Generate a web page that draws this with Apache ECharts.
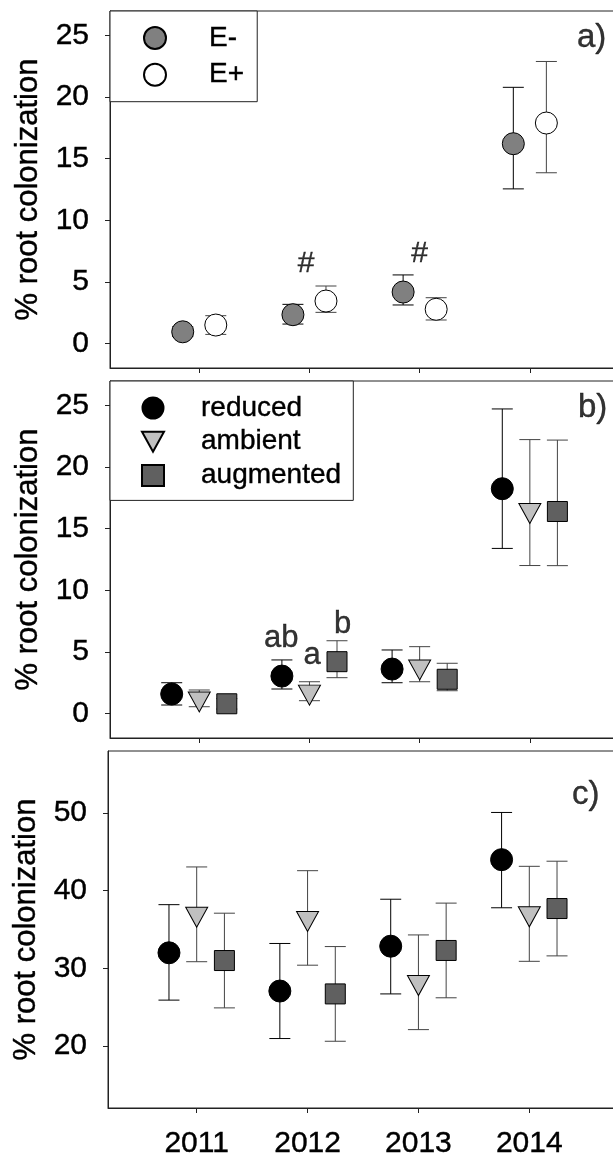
<!DOCTYPE html>
<html><head><meta charset="utf-8">
<script src="https://cdn.jsdelivr.net/npm/echarts@6/dist/echarts.min.js"></script>
<style>html,body{margin:0;padding:0;background:#fff}#c{width:613px;height:1160px}</style>
</head><body><div id="c"></div>
<script>
// ---------- data ----------
const years = [2011, 2012, 2013, 2014];
const yTicksAB = [0, 5, 10, 15, 20, 25];
const yTicksC = [20, 30, 40, 50];

// panel a: endophyte
const eMinusMean = [0.94, 2.33, 4.17, 16.22];
const eMinusLo   = [0.55, 1.57, 3.12, 12.55];
const eMinusHi   = [1.35, 3.17, 5.56, 20.8];
const ePlusMean  = [1.49, 3.44, 2.77, 17.9];
const ePlusLo    = [0.73, 2.52, 1.9, 13.86];
const ePlusHi    = [2.25, 4.66, 3.71, 22.9];

// panel b: precipitation
const bRedMean = [1.57, 3.03, 3.6, 18.25];
const bRedLo   = [0.68, 1.98, 2.49, 13.4];
const bRedHi   = [2.49, 4.34, 5.15, 24.73];
const bAmbMean = [1.2, 1.75, 3.8, 16.5];
const bAmbLo   = [0.54, 1.03, 2.57, 12.01];
const bAmbHi   = [1.9, 2.57, 5.42, 22.24];
const bAugMean = [0.78, 4.2, 2.77, 16.4];
const bAugLo   = [0.35, 2.9, 1.84, 12.0];
const bAugHi   = [1.2, 5.9, 4.07, 22.2];

// panel c
const cRedMean = [32.0, 27.07, 32.85, 44.0];
const cRedLo   = [25.9, 20.95, 26.7, 37.8];
const cRedHi   = [38.2, 33.2, 38.9, 50.08];
const cAmbMean = [37.0, 36.45, 28.2, 37.06];
const cAmbLo   = [30.85, 30.4, 22.1, 30.9];
const cAmbHi   = [43.06, 42.58, 34.3, 43.14];
const cAugMean = [31.0, 26.7, 32.3, 37.7];
const cAugLo   = [24.9, 20.6, 26.2, 31.6];
const cAugHi   = [37.1, 32.8, 38.4, 43.8];

// annotations [x, y, text]
const annotA = [[2011.97, 6.5, '#'], [2013.0, 7.3, '#'], [2014.56, 24.8, 'a)']];
const annotB = [[2011.745, 6.1, 'ab'], [2012.025, 4.74, 'a'], [2012.3, 7.24, 'b'], [2014.57, 24.8, 'b)']];
const annotC = [[2014.51, 52.3, 'c)']];

// ---------- build ----------
const FONT = 'Liberation Sans, Arial, Helvetica, sans-serif';
const AX = '#222';
const BOLDEN = { textBorderColor: '#000', textBorderWidth: 0.4 };

function pts(mean, off) { return years.map((y, i) => [y + off, mean[i]]); }
function errs(lo, hi, off) { return years.map((y, i) => [y + off, lo[i], hi[i]]); }

function errRender(color) {
  return function (params, api) {
    const x = api.value(0), lo = api.value(1), hi = api.value(2);
    const a = api.coord([x, lo]), b = api.coord([x, hi]);
    const hw = 10.5;
    const st = { stroke: color, lineWidth: 1 };
    return { type: 'group', children: [
      { type: 'line', shape: { x1: a[0], y1: a[1], x2: b[0], y2: b[1] }, style: st },
      { type: 'line', shape: { x1: a[0] - hw, y1: a[1], x2: a[0] + hw, y2: a[1] }, style: st },
      { type: 'line', shape: { x1: b[0] - hw, y1: b[1], x2: b[0] + hw, y2: b[1] }, style: st }
    ]};
  };
}

const series = [];
function group(idx, name, mean, lo, hi, off, sym, fill, barColor) {
  series.push({
    type: 'custom', name: '_err' + name + idx, xAxisIndex: idx, yAxisIndex: idx,
    renderItem: errRender(barColor), data: errs(lo, hi, off),
    encode: { x: 0, y: [1, 2] }, z: 2, silent: true
  });
  const s = {
    type: 'scatter', name: name, xAxisIndex: idx, yAxisIndex: idx,
    data: pts(mean, off), symbol: sym.symbol, symbolSize: sym.size,
    itemStyle: { color: fill, borderColor: '#000', borderWidth: 1, opacity: 1 },
    z: 3, silent: true
  };
  if (sym.rotate) s.symbolRotate = sym.rotate;
  if (sym.offset) s.symbolOffset = sym.offset;
  series.push(s);
}
function annot(idx, arr, size) {
  series.push({
    type: 'scatter', name: '_annot' + idx, xAxisIndex: idx, yAxisIndex: idx,
    symbolSize: 1, itemStyle: { color: 'rgba(0,0,0,0)' }, silent: true, z: 5,
    data: arr.map(d => ({ value: [d[0], d[1]], label: Object.assign({
      formatter: d[2], fontSize: d[2].indexOf(')') >= 0 ? 33 : size, color: '#000' }, BOLDEN) })),
    label: Object.assign({ show: true, position: 'inside', color: '#000', fontFamily: FONT }, BOLDEN)
  });
}

const CIRC = { symbol: 'circle', size: 22 };
const TRI = { symbol: 'triangle', size: [22, 20], rotate: 180, offset: [0, 3.3] };
const SQ = { symbol: 'rect', size: 20 };

group(0, 'E-', eMinusMean, eMinusLo, eMinusHi, -0.15, CIRC, '#808080', '#000');
group(0, 'E+', ePlusMean, ePlusLo, ePlusHi, 0.15, CIRC, '#ffffff', '#444');
annot(0, annotA, 30);

group(1, 'reduced', bRedMean, bRedLo, bRedHi, -0.25, CIRC, '#000000', '#000');
group(1, 'ambient', bAmbMean, bAmbLo, bAmbHi, 0, TRI, '#c0c0c0', '#444');
group(1, 'augmented', bAugMean, bAugLo, bAugHi, 0.25, SQ, '#606060', '#444');
annot(1, annotB, 31);

group(2, 'reduced', cRedMean, cRedLo, cRedHi, -0.25, CIRC, '#000000', '#000');
group(2, 'ambient', cAmbMean, cAmbLo, cAmbHi, 0, TRI, '#c0c0c0', '#444');
group(2, 'augmented', cAugMean, cAugLo, cAugHi, 0.25, SQ, '#606060', '#444');
annot(2, annotC, 31);

function gridCfg(left, top) {
  return { left: left, right: -5, top: top, height: 357, show: true, borderColor: AX, borderWidth: 1,
           containLabel: false, outerBoundsMode: 'none' };
}
function xAx(idx, min, showLabel) {
  return {
    type: 'value', gridIndex: idx, min: min, max: 2014.8, position: 'bottom',
    axisLine: { show: true, onZero: false, lineStyle: { color: AX } },
    axisTick: { show: true, inside: false, length: 5, lineStyle: { color: AX }, customValues: years },
    axisLabel: Object.assign({ show: showLabel, customValues: years, margin: 21, fontSize: 30, color: '#000', fontFamily: FONT,
                 formatter: v => String(Math.round(v)) }, BOLDEN),
    splitLine: { show: false }
  };
}
function yAx(idx, min, max, ticks) {
  return {
    type: 'value', gridIndex: idx, min: min, max: max, position: 'left',
    name: '% root colonization', nameLocation: 'middle', nameGap: 65,
    nameTextStyle: Object.assign({ fontSize: 31, color: '#000', fontFamily: FONT }, BOLDEN),
    axisLine: { show: true, onZero: false, lineStyle: { color: AX } },
    axisTick: { show: true, inside: false, length: 5, lineStyle: { color: AX }, customValues: ticks },
    axisLabel: Object.assign({ customValues: ticks, margin: 21, fontSize: 30, color: '#000', fontFamily: FONT }, BOLDEN),
    splitLine: { show: false }
  };
}

const legendText = Object.assign({ fontSize: 28, lineHeight: 30, color: '#000', fontFamily: FONT }, BOLDEN);

const option = {
  animation: false,
  backgroundColor: '#fff',
  textStyle: { fontFamily: FONT },
  grid: [gridCfg(110, 11), gridCfg(110, 381), gridCfg(108, 751)],
  xAxis: [xAx(0, 2010.19, false), xAx(1, 2010.19, false), xAx(2, 2010.2, true)],
  yAxis: [yAx(0, -2, 27, yTicksAB), yAx(1, -2, 27, yTicksAB), yAx(2, 12, 58, yTicksC)],
  legend: [
    { data: ['E-', 'E+'], orient: 'vertical', left: 110, top: 11,
      padding: [12, 13, 12, 33], itemWidth: 22, itemHeight: 22, itemGap: 6.7,
      borderColor: AX, borderWidth: 1, backgroundColor: '#fff', selectedMode: false,
      textStyle: Object.assign({ padding: [0, 0, 0, 38] }, legendText) },
    { data: ['reduced', { name: 'ambient', icon: 'path://M0,0 L22,0 L11,20 Z' }, 'augmented'],
      orient: 'vertical', left: 110, top: 381,
      padding: [12, 12, 10, 31], itemWidth: 22, itemHeight: 21, itemGap: 3.7,
      borderColor: AX, borderWidth: 1, backgroundColor: '#fff', selectedMode: false,
      textStyle: Object.assign({ padding: [0, 0, 0, 32] }, legendText) }
  ],
  series: series
};

const chart = echarts.init(document.getElementById('c'), null, { renderer: 'canvas' });
chart.setOption(option);
</script>
</body></html>
